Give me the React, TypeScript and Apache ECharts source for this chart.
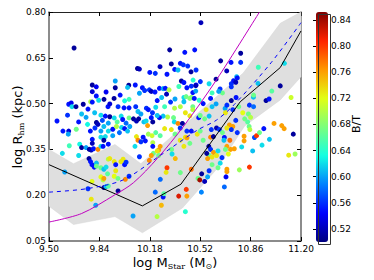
import React, { useEffect, useRef } from "react";
import * as echarts from "echarts";

// ---- axis ticks ----
const xTicks = [9.5, 9.84, 10.18, 10.52, 10.86, 11.2];
const yTicks = [0.05, 0.2, 0.35, 0.5, 0.65, 0.8];
const btTicks = [0.52, 0.56, 0.6, 0.64, 0.68, 0.72, 0.76, 0.8, 0.84];
const btMin = 0.5;
const btMax = 0.852;

// ---- galaxies: [log M_star, log R_hm, B/T] ----
const galaxiesLowMassCompact = [
  [9.669, 0.682, 0.51], [9.792, 0.561, 0.51], [9.819, 0.555, 0.54], [9.947, 0.574, 0.6],
  [10.038, 0.56, 0.51], [10.03, 0.553, 0.61], [9.792, 0.539, 0.53], [9.885, 0.538, 0.54],
  [9.947, 0.552, 0.51], [9.819, 0.525, 0.55], [9.98, 0.528, 0.55], [9.835, 0.511, 0.62],
  [9.871, 0.514, 0.51], [9.939, 0.517, 0.51], [10.01, 0.509, 0.63], [10.04, 0.514, 0.65],
  [9.633, 0.498, 0.55], [9.65, 0.502, 0.54], [9.655, 0.49, 0.62], [9.682, 0.49, 0.51],
  [9.731, 0.498, 0.51], [9.763, 0.482, 0.55], [9.781, 0.506, 0.7], [9.792, 0.505, 0.55],
  [9.898, 0.49, 0.55], [9.91, 0.499, 0.53], [9.966, 0.49, 0.56], [10.006, 0.486, 0.55],
  [10.04, 0.486, 0.55], [9.808, 0.47, 0.61], [9.554, 0.443, 0.55], [9.85, 0.462, 0.62],
  [9.88, 0.459, 0.55], [9.91, 0.457, 0.51], [9.94, 0.453, 0.62], [9.987, 0.459, 0.62],
  [9.997, 0.448, 0.55], [10.04, 0.453, 0.67], [9.82, 0.438, 0.51], [9.83, 0.432, 0.52],
  [9.72, 0.466, 0.61], [9.75, 0.455, 0.6], [9.7, 0.44, 0.55], [9.76, 0.432, 0.63],
  [9.86, 0.445, 0.57], [9.9, 0.436, 0.6], [9.96, 0.44, 0.66], [10.02, 0.436, 0.58],
  [9.625, 0.462, 0.56],
];

const galaxiesLowMassExtended = [
  [9.594, 0.41, 0.55], [9.633, 0.41, 0.53], [9.684, 0.416, 0.67], [9.63, 0.4, 0.6],
  [9.779, 0.41, 0.55], [9.81, 0.42, 0.56], [9.85, 0.41, 0.6], [9.87, 0.425, 0.61],
  [9.9, 0.41, 0.62], [9.93, 0.416, 0.55], [9.955, 0.425, 0.7], [9.975, 0.405, 0.58],
  [9.99, 0.422, 0.62], [10.01, 0.418, 0.55], [10.03, 0.41, 0.61], [10.045, 0.425, 0.6],
  [9.792, 0.383, 0.55], [9.792, 0.37, 0.52], [9.85, 0.39, 0.62], [9.88, 0.392, 0.62],
  [9.87, 0.38, 0.51], [9.93, 0.395, 0.6], [9.707, 0.367, 0.63], [9.72, 0.356, 0.51],
  [9.75, 0.356, 0.6], [9.772, 0.35, 0.51], [9.785, 0.348, 0.52], [9.8, 0.352, 0.55],
  [9.83, 0.35, 0.77], [9.85, 0.36, 0.62], [9.865, 0.36, 0.55], [9.9, 0.367, 0.55],
  [9.59, 0.337, 0.62], [9.637, 0.362, 0.65], [9.77, 0.32, 0.51], [9.78, 0.31, 0.55],
  [9.79, 0.3, 0.55], [9.805, 0.292, 0.55], [9.82, 0.305, 0.61], [9.82, 0.295, 0.67],
  [9.85, 0.29, 0.67], [9.87, 0.285, 0.61], [9.885, 0.292, 0.62], [9.9, 0.318, 0.7],
  [9.91, 0.32, 0.73], [9.94, 0.31, 0.73], [9.95, 0.3, 0.55], [9.95, 0.28, 0.73],
  [9.985, 0.31, 0.73], [10.0, 0.318, 0.73], [10.01, 0.3, 0.55], [10.02, 0.308, 0.56],
  [9.85, 0.26, 0.72], [9.865, 0.25, 0.7], [9.87, 0.255, 0.76], [9.895, 0.27, 0.66],
  [9.94, 0.262, 0.72], [9.965, 0.255, 0.67], [10.015, 0.252, 0.77], [10.04, 0.262, 0.56],
  [9.606, 0.276, 0.6], [9.763, 0.221, 0.56], [9.87, 0.225, 0.52], [9.885, 0.228, 0.61],
  [9.9, 0.23, 0.66], [9.966, 0.214, 0.51], [9.785, 0.187, 0.73], [9.815, 0.167, 0.6],
  [9.7, 0.33, 0.62], [9.79, 0.245, 0.72],
];

const galaxiesMidMassLarge = [
  [10.525, 0.765, 0.52], [10.314, 0.676, 0.51], [10.416, 0.668, 0.55], [10.483, 0.676, 0.55],
  [10.097, 0.615, 0.51], [10.11, 0.613, 0.52], [10.18, 0.602, 0.55], [10.217, 0.599, 0.56],
  [10.249, 0.621, 0.52], [10.296, 0.596, 0.55], [10.325, 0.63, 0.51], [10.348, 0.612, 0.55],
  [10.37, 0.61, 0.61], [10.386, 0.632, 0.55], [10.406, 0.627, 0.56], [10.436, 0.623, 0.56],
  [10.458, 0.604, 0.51], [10.492, 0.61, 0.56], [10.393, 0.574, 0.51], [10.41, 0.569, 0.55],
  [10.472, 0.577, 0.64], [10.521, 0.572, 0.56], [10.492, 0.561, 0.55], [10.58, 0.565, 0.62],
  [10.627, 0.58, 0.51], [10.082, 0.561, 0.55], [10.11, 0.534, 0.6], [10.13, 0.552, 0.55],
  [10.145, 0.543, 0.56], [10.177, 0.545, 0.56], [10.19, 0.54, 0.52], [10.215, 0.538, 0.55],
  [10.245, 0.55, 0.55], [10.27, 0.549, 0.6], [10.285, 0.55, 0.55], [10.293, 0.531, 0.52],
  [10.31, 0.545, 0.7], [10.376, 0.556, 0.65], [10.43, 0.552, 0.55], [10.46, 0.557, 0.56],
  [10.49, 0.559, 0.52], [10.47, 0.536, 0.55], [10.49, 0.541, 0.6], [10.41, 0.52, 0.62],
  [10.425, 0.523, 0.67], [10.45, 0.517, 0.68], [10.46, 0.52, 0.68], [10.48, 0.517, 0.55],
  [10.41, 0.506, 0.61], [10.386, 0.49, 0.7], [10.47, 0.49, 0.67], [10.47, 0.48, 0.7],
  [10.513, 0.511, 0.64], [10.54, 0.5, 0.55], [10.59, 0.517, 0.55], [10.347, 0.485, 0.7],
  [10.3, 0.456, 0.7], [10.34, 0.454, 0.67], [10.27, 0.459, 0.61], [10.245, 0.454, 0.55],
  [10.23, 0.461, 0.61], [10.19, 0.454, 0.55], [10.198, 0.47, 0.56], [10.157, 0.485, 0.56],
  [10.17, 0.48, 0.55], [10.085, 0.49, 0.56], [10.1, 0.474, 0.61], [10.12, 0.466, 0.6],
  [10.07, 0.45, 0.51], [10.09, 0.443, 0.52], [10.105, 0.45, 0.51], [10.14, 0.44, 0.61],
  [10.155, 0.443, 0.62], [10.165, 0.428, 0.76], [10.2, 0.44, 0.51], [10.345, 0.44, 0.62],
  [10.37, 0.435, 0.77], [10.4, 0.435, 0.51], [10.42, 0.47, 0.73], [10.45, 0.46, 0.73],
  [10.51, 0.454, 0.55], [10.52, 0.461, 0.67], [10.55, 0.45, 0.67], [10.58, 0.459, 0.61],
  [10.6, 0.49, 0.61], [10.56, 0.48, 0.73], [10.23, 0.51, 0.55], [10.26, 0.52, 0.61],
  [10.32, 0.505, 0.56], [10.35, 0.515, 0.6], [10.28, 0.49, 0.65], [10.22, 0.488, 0.62],
];

const galaxiesMidMassSmall = [
  [10.09, 0.392, 0.73], [10.1, 0.38, 0.77], [10.15, 0.378, 0.55], [10.2, 0.372, 0.7],
  [10.42, 0.39, 0.73], [10.385, 0.38, 0.73], [10.35, 0.4, 0.67], [10.43, 0.41, 0.56],
  [10.204, 0.337, 0.67], [10.24, 0.33, 0.67], [10.327, 0.35, 0.67], [10.19, 0.33, 0.76],
  [10.11, 0.326, 0.56], [10.08, 0.36, 0.62], [10.12, 0.375, 0.56], [10.135, 0.39, 0.55],
  [10.17, 0.4, 0.69], [10.195, 0.395, 0.71], [10.22, 0.405, 0.66], [10.25, 0.395, 0.66],
  [10.28, 0.418, 0.73], [10.325, 0.415, 0.73], [10.385, 0.42, 0.56], [10.2, 0.36, 0.55],
  [10.24, 0.348, 0.76], [10.177, 0.314, 0.77], [10.23, 0.345, 0.73], [10.25, 0.36, 0.76],
  [10.352, 0.32, 0.75], [10.33, 0.335, 0.62], [10.296, 0.29, 0.8], [10.29, 0.275, 0.73],
  [10.251, 0.252, 0.58], [10.386, 0.274, 0.67], [10.46, 0.285, 0.78], [10.505, 0.255, 0.67],
  [10.517, 0.25, 0.84], [10.53, 0.27, 0.51], [10.55, 0.245, 0.52], [10.57, 0.26, 0.6],
  [10.58, 0.28, 0.56], [10.528, 0.21, 0.59], [10.426, 0.219, 0.8], [10.375, 0.197, 0.82],
  [10.43, 0.197, 0.76], [10.217, 0.21, 0.58], [10.27, 0.194, 0.55], [10.275, 0.205, 0.66],
  [10.258, 0.167, 0.75], [10.229, 0.13, 0.7], [10.42, 0.146, 0.64], [10.067, 0.132, 0.6],
  [10.431, 0.388, 0.76], [10.41, 0.36, 0.73], [10.45, 0.37, 0.67], [10.46, 0.41, 0.55],
  [10.5, 0.4, 0.73], [10.52, 0.41, 0.67], [10.54, 0.38, 0.67], [10.578, 0.36, 0.51],
  [10.59, 0.35, 0.56], [10.59, 0.39, 0.77], [10.595, 0.415, 0.56], [10.58, 0.33, 0.67],
  [10.6, 0.325, 0.73], [10.61, 0.34, 0.76], [10.564, 0.337, 0.51], [10.57, 0.32, 0.76],
  [10.6, 0.3, 0.67], [10.609, 0.392, 0.51],
];

const galaxiesHighMass = [
  [10.658, 0.64, 0.51], [10.728, 0.635, 0.55], [10.793, 0.665, 0.51], [10.793, 0.635, 0.56],
  [10.699, 0.607, 0.52], [10.766, 0.588, 0.61], [10.77, 0.584, 0.55], [10.654, 0.548, 0.56],
  [10.73, 0.565, 0.56], [10.745, 0.575, 0.55], [10.76, 0.57, 0.52], [10.73, 0.555, 0.56],
  [10.67, 0.535, 0.67], [10.645, 0.54, 0.6], [10.912, 0.619, 0.65], [11.088, 0.632, 0.62],
  [10.91, 0.566, 0.61], [11.003, 0.541, 0.66], [11.06, 0.558, 0.51], [11.133, 0.52, 0.71],
  [10.964, 0.51, 0.51], [10.985, 0.515, 0.55], [10.879, 0.521, 0.61], [10.88, 0.528, 0.67],
  [10.852, 0.495, 0.56], [10.88, 0.49, 0.58], [10.845, 0.466, 0.67], [10.86, 0.455, 0.7],
  [10.84, 0.44, 0.66], [10.762, 0.52, 0.55], [10.73, 0.51, 0.51], [10.688, 0.484, 0.6],
  [10.7, 0.495, 0.56], [10.627, 0.499, 0.6], [10.6, 0.535, 0.65], [10.69, 0.47, 0.73],
  [10.74, 0.48, 0.56], [10.78, 0.49, 0.67], [10.807, 0.47, 0.72], [10.82, 0.45, 0.67],
  [10.76, 0.445, 0.56], [10.717, 0.43, 0.76], [10.7, 0.42, 0.73], [10.74, 0.425, 0.76],
  [10.73, 0.415, 0.56], [10.63, 0.42, 0.52], [10.65, 0.415, 0.56], [10.683, 0.389, 0.55],
  [10.67, 0.405, 0.67], [10.72, 0.38, 0.78], [10.68, 0.38, 0.61], [10.7, 0.36, 0.76],
  [10.725, 0.35, 0.76], [10.69, 0.35, 0.67], [10.71, 0.335, 0.72], [10.667, 0.323, 0.56],
  [10.63, 0.33, 0.73], [10.64, 0.345, 0.62], [10.75, 0.352, 0.76], [10.77, 0.405, 0.56],
  [10.8, 0.358, 0.62], [10.816, 0.393, 0.76], [10.816, 0.378, 0.76], [10.85, 0.425, 0.67],
  [10.855, 0.415, 0.7], [10.874, 0.345, 0.61], [10.886, 0.389, 0.57], [10.9, 0.395, 0.8],
  [10.92, 0.405, 0.67], [10.937, 0.364, 0.62], [10.949, 0.418, 0.55], [10.987, 0.383, 0.61],
  [11.018, 0.435, 0.76], [11.07, 0.428, 0.76], [11.086, 0.418, 0.76], [11.148, 0.4, 0.51],
  [11.117, 0.331, 0.73], [11.16, 0.335, 0.69], [10.7, 0.285, 0.76], [10.7, 0.277, 0.76],
  [10.784, 0.283, 0.69], [10.852, 0.292, 0.8], [10.694, 0.26, 0.54], [10.683, 0.227, 0.58],
  [10.655, 0.305, 0.62], [10.64, 0.29, 0.67],
];

// ---- lines ----
const medianLine = [
  [9.5, 0.3], [10.13, 0.165], [10.39, 0.236], [10.79, 0.506], [11.06, 0.618], [11.2, 0.738],
];
const dashedRelation = [
  [9.5, 0.21], [9.75, 0.221], [10.0, 0.25], [10.25, 0.33], [10.5, 0.413], [10.63, 0.446],
  [10.75, 0.497], [11.0, 0.635], [11.2, 0.765],
];
const magentaRelation = [
  [9.5, 0.112], [9.72, 0.14], [9.94, 0.2], [10.07, 0.241], [10.23, 0.32], [10.41, 0.427],
  [10.63, 0.578], [10.92, 0.8],
];
const bandUpper = [
  [9.5, 0.35], [9.665, 0.303], [9.945, 0.366], [10.12, 0.303], [10.81, 0.6], [11.06, 0.763], [11.2, 0.8],
];
const bandLower = [
  [9.5, 0.164], [9.665, 0.104], [9.945, 0.13], [10.13, 0.077], [10.4, 0.158], [10.63, 0.285],
  [10.82, 0.427], [11.06, 0.512], [11.2, 0.588],
];

const jet = [
  "#00007f", "#0000ff", "#0080ff", "#14ffe2", "#7bff7b", "#e2ff14", "#ff9700", "#ff2200", "#7f0000",
];

const FONT = "DejaVu Sans";

export default function App() {
  const ref = useRef<HTMLDivElement>(null);

  useEffect(() => {
    if (!ref.current) return;
    const chart = echarts.init(ref.current, undefined, { renderer: "svg" });
    const allGalaxies = [
      ...galaxiesLowMassCompact,
      ...galaxiesLowMassExtended,
      ...galaxiesMidMassLarge,
      ...galaxiesMidMassSmall,
      ...galaxiesHighMass,
    ];
    const tickLabel = { fontFamily: FONT, fontSize: 9, color: "#000" };
    const fmt = (v: number) => Number(v).toFixed(2);
    const titleRich = {
      a: { fontFamily: FONT, fontSize: 13, lineHeight: 16, fill: "#000" },
      s: { fontFamily: "DejaVu Serif", fontSize: 8, lineHeight: 8, verticalAlign: "bottom", fill: "#000" },
      o: { fontFamily: FONT, fontSize: 8, lineHeight: 8, verticalAlign: "bottom", fill: "#000" },
    };

    chart.setOption({
      animation: false,
      backgroundColor: "#fff",
      grid: [
        { left: 49, top: 12, width: 252, height: 229, outerBoundsMode: "none", containLabel: false },
        { left: 316, top: 12, width: 12, height: 230, outerBoundsMode: "none", containLabel: false },
      ],
      xAxis: [
        {
          type: "value", gridIndex: 0, position: "bottom", min: 9.5, max: 11.2,
          axisLine: { show: true, onZero: false, lineStyle: { color: "#666", width: 1.5 } },
          axisTick: { show: true, inside: true, length: 4, customValues: xTicks, lineStyle: { color: "#000" } },
          axisLabel: { show: true, customValues: xTicks, formatter: fmt, margin: 3, ...tickLabel },
          splitLine: { show: false },
        },
        {
          type: "value", gridIndex: 0, position: "top", min: 9.5, max: 11.2,
          axisLine: { show: true, onZero: false, lineStyle: { color: "#222", width: 1 } },
          axisTick: { show: true, inside: true, length: 4, customValues: xTicks, lineStyle: { color: "#000" } },
          axisLabel: { show: false },
          splitLine: { show: false },
        },
        { type: "value", gridIndex: 1, min: 0, max: 1, show: false },
      ],
      yAxis: [
        {
          type: "value", gridIndex: 0, position: "left", min: 0.05, max: 0.8,
          axisLine: { show: true, onZero: false, lineStyle: { color: "#666", width: 1.5 } },
          axisTick: { show: true, inside: true, length: 4, customValues: yTicks, lineStyle: { color: "#000" } },
          axisLabel: { show: true, customValues: yTicks, formatter: fmt, margin: 3, ...tickLabel },
          splitLine: { show: false },
        },
        {
          type: "value", gridIndex: 0, position: "right", min: 0.05, max: 0.8,
          axisLine: { show: true, onZero: false, lineStyle: { color: "#666", width: 1.5 } },
          axisTick: { show: true, inside: true, length: 4, customValues: yTicks, lineStyle: { color: "#000" } },
          axisLabel: { show: false },
          splitLine: { show: false },
        },
        {
          type: "value", gridIndex: 1, position: "right", min: btMin, max: btMax,
          axisLine: { show: false },
          axisTick: { show: true, inside: true, length: 3, customValues: btTicks, lineStyle: { color: "#000" } },
          axisLabel: { show: true, customValues: btTicks, formatter: fmt, margin: 3, ...tickLabel },
          splitLine: { show: false },
        },
      ],
      visualMap: {
        type: "continuous",
        show: true,
        seriesIndex: 1,
        dimension: 2,
        min: btMin,
        max: btMax,
        calculable: false,
        hoverLink: false,
        orient: "vertical",
        left: 316,
        top: 12,
        itemWidth: 12,
        itemHeight: 230,
        padding: 0,
        inRange: { color: jet },
      },
      graphic: [
        {
          type: "rect",
          left: 316,
          top: 12,
          shape: { width: 12, height: 230 },
          style: { fill: "none", stroke: "#333", lineWidth: 1 },
          z: 100,
          silent: true,
        },
        {
          type: "text",
          x: 175,
          y: 262,
          silent: true,
          style: {
            text: "{a|log M}{s|Star}{a| (M}{o|⊙}{a|)}",
            rich: titleRich,
            align: "center",
            verticalAlign: "middle",
          },
        },
        {
          type: "text",
          x: 17,
          y: 127,
          rotation: Math.PI / 2,
          silent: true,
          style: {
            text: "{a|log R}{s|hm}{a| (kpc)}",
            rich: titleRich,
            align: "center",
            verticalAlign: "middle",
          },
        },
        {
          type: "text",
          x: 356,
          y: 124,
          rotation: Math.PI / 2,
          silent: true,
          style: {
            text: "B/T",
            font: "11px DejaVu Sans",
            fill: "#000",
            align: "center",
            verticalAlign: "middle",
          },
        },
      ],
      series: [
        {
          type: "custom",
          xAxisIndex: 0,
          yAxisIndex: 0,
          z: 1,
          silent: true,
          data: [bandLower[0]],
          renderItem: (_params: any, api: any) => {
            const pts = bandUpper
              .map((p) => api.coord(p))
              .concat(bandLower.slice().reverse().map((p) => api.coord(p)));
            return {
              type: "polygon",
              shape: { points: pts },
              style: { fill: "#dfdfdf", stroke: "#d6d6d6", lineWidth: 0.5 },
            };
          },
        },
        {
          type: "scatter",
          xAxisIndex: 0,
          yAxisIndex: 0,
          z: 2,
          symbolSize: 5,
          data: allGalaxies,
          encode: { x: 0, y: 1 },
          itemStyle: { opacity: 1 },
        },
        {
          type: "line",
          xAxisIndex: 0,
          yAxisIndex: 0,
          z: 3,
          data: medianLine,
          showSymbol: false,
          lineStyle: { color: "#000", width: 1 },
        },
        {
          type: "line",
          xAxisIndex: 0,
          yAxisIndex: 0,
          z: 3,
          data: dashedRelation,
          showSymbol: false,
          smooth: 0.3,
          lineStyle: { color: "#0000ff", width: 1, type: [4, 4] },
        },
        {
          type: "line",
          xAxisIndex: 0,
          yAxisIndex: 0,
          z: 3,
          data: magentaRelation,
          showSymbol: false,
          smooth: 0.3,
          lineStyle: { color: "#bf00bf", width: 1 },
        },
      ],
    });
    return () => chart.dispose();
  }, []);

  return <div ref={ref} style={{ width: 374, height: 280, margin: -8 }} />;
}
